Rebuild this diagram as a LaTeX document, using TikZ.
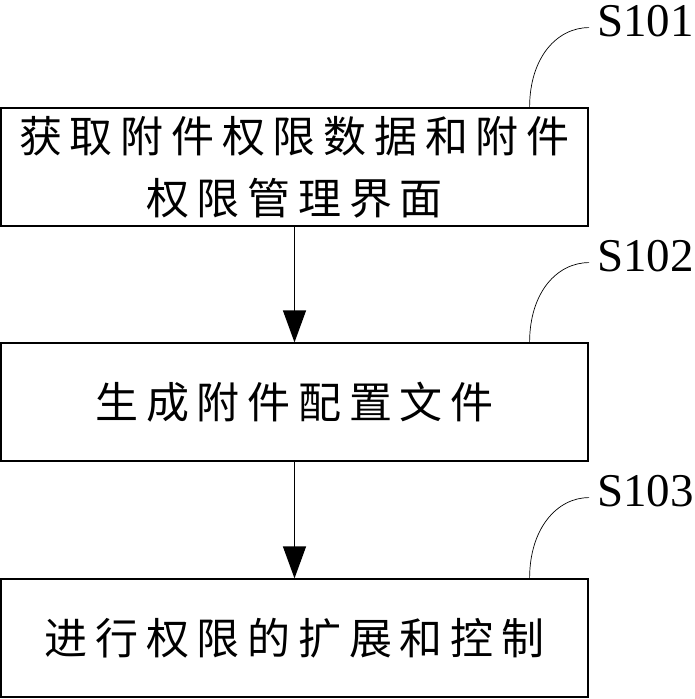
\documentclass[tikz,border=0pt]{standalone}
\usepackage{fontspec}
\setmainfont{Liberation Serif}
\newfontfamily\cjk[LetterSpace=18]{Noto Sans CJK SC}
\usetikzlibrary{arrows.meta,positioning}

\begin{document}
\begin{tikzpicture}[x=1pt,y=-1pt,
  stepbox/.style={draw, line width=1.2pt, minimum width=587pt, minimum height=118pt,
    inner sep=0pt, align=center, font=\cjk\fontsize{43}{62}\selectfont},
  steplabel/.style={font=\fontsize{47}{47}\selectfont, inner sep=1pt, anchor=base west},
  flow/.style={line width=1.2pt, -{Triangle[width=23pt,length=32pt]}},
  tag/.style={line width=0.7pt}]
  \useasboundingbox (0,0) rectangle (695,699);
  % steps
  \node[stepbox] (s101box) at (294.5,167) {获取附件权限数据和附件\\权限管理界面};
  \node[stepbox] (s102box) at (294.5,402) {生成附件配置文件};
  \node[stepbox] (s103box) at (294.5,638) {进行权限的扩展和控制};
  % step numbers
  \node[steplabel] (s101) at (596,36) {S101};
  \node[steplabel] (s102) at (596,271) {S102};
  \node[steplabel] (s103) at (596,506) {S103};
  % flow
  \draw[flow] (s101box) -- (s102box);
  \draw[flow] (s102box) -- (s103box);
  % leaders
  \draw[tag] ([xshift=-59pt]s101box.north east) .. controls +(0,-50) and +(-32,0) .. ([xshift=-7pt,yshift=-7pt]s101.west);
  \draw[tag] ([xshift=-59pt]s102box.north east) .. controls +(0,-50) and +(-32,0) .. ([xshift=-7pt,yshift=-7pt]s102.west);
  \draw[tag] ([xshift=-59pt]s103box.north east) .. controls +(0,-50) and +(-32,0) .. ([xshift=-7pt,yshift=-7pt]s103.west);
\end{tikzpicture}
\end{document}
